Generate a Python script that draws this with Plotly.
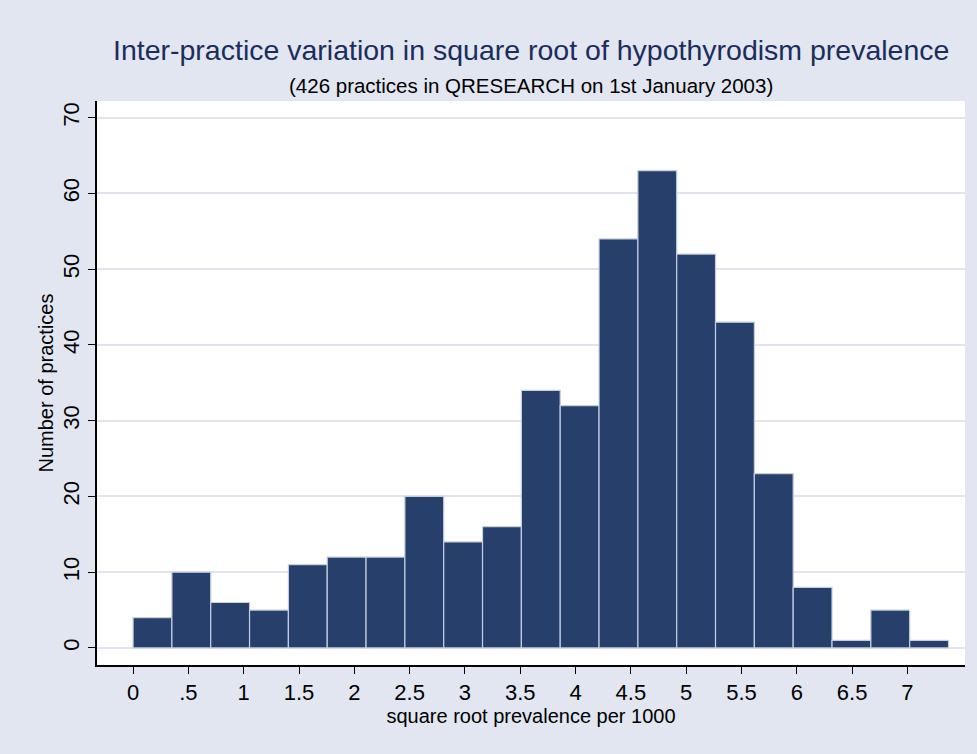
import plotly.graph_objects as go

# histogram counts per bin (426 practices)
counts = [4, 10, 6, 5, 11, 12, 12, 20, 14, 16, 34, 32, 54, 63, 52, 43, 23, 8, 1, 5, 1]
bin_start = 0.0
bin_width = 0.351

x_ticks = [0, 0.5, 1, 1.5, 2, 2.5, 3, 3.5, 4, 4.5, 5, 5.5, 6, 6.5, 7]
x_tick_text = ["0", ".5", "1", "1.5", "2", "2.5", "3", "3.5", "4", "4.5", "5", "5.5", "6", "6.5", "7"]
y_ticks = [0, 10, 20, 30, 40, 50, 60, 70]

centers = [bin_start + bin_width * (i + 0.5) for i in range(len(counts))]

bg = "#e1e6f0"
font = "Liberation Sans, Arial, sans-serif"

fig = go.Figure()
fig.add_trace(go.Bar(
    x=centers,
    y=counts,
    width=bin_width,
    marker=dict(color="#263f6b", line=dict(color="#c5cde0", width=1.2)),
))

fig.update_layout(
    width=977,
    height=754,
    paper_bgcolor=bg,
    plot_bgcolor="white",
    margin=dict(l=97, r=12, t=101, b=89),
    showlegend=False,
    font=dict(family=font, color="black"),
    annotations=[
        dict(text="Inter-practice variation in square root of hypothyrodism prevalence",
             x=0.5, y=1, xref="paper", yref="paper", xanchor="center", yanchor="bottom",
             yshift=33, showarrow=False, font=dict(size=28.5, color="#1c2d5c")),
        dict(text="(426 practices in QRESEARCH on 1st January 2003)",
             x=0.5, y=1, xref="paper", yref="paper", xanchor="center", yanchor="bottom",
             yshift=2, showarrow=False, font=dict(size=20.5, color="black")),
    ],
)

fig.update_xaxes(
    range=[-0.326, 7.52],
    tickvals=x_ticks,
    ticktext=x_tick_text,
    ticks="outside",
    ticklen=7,
    tickcolor="black",
    tickfont=dict(size=22),
    showgrid=False,
    zeroline=False,
    showline=True,
    linecolor="black",
    linewidth=1.5,
    title=dict(text="square root prevalence per 1000", font=dict(size=20), standoff=0),
)

fig.update_yaxes(
    range=[-2.25, 72.2],
    tickvals=y_ticks,
    ticks="outside",
    ticklen=7,
    tickcolor="black",
    tickangle=-90,
    tickfont=dict(size=22),
    showgrid=True,
    gridcolor="#dfe4ef",
    gridwidth=2,
    zeroline=False,
    showline=True,
    linecolor="black",
    linewidth=1.5,
    title=dict(text="Number of practices", font=dict(size=20), standoff=0),
)

fig.write_html("out.html", config={"displayModeBar": False},
               post_script="document.body.style.margin='0';")
